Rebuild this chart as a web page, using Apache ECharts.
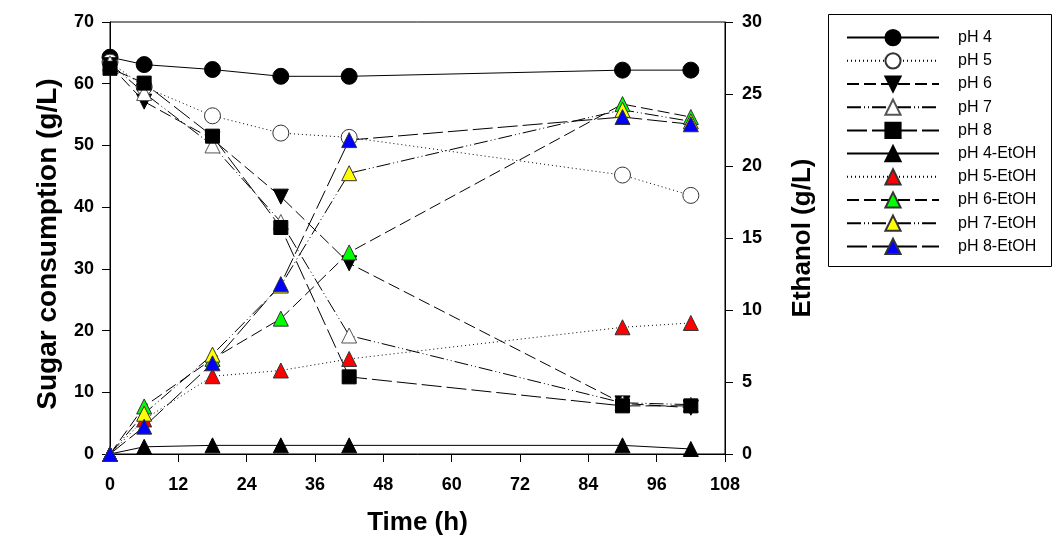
<!DOCTYPE html>
<html><head><meta charset="utf-8">
<script src="https://cdn.jsdelivr.net/npm/echarts@6/dist/echarts.min.js"></script>
<style>html,body{margin:0;padding:0;background:#fff}#c{width:1056px;height:556px}</style>
</head><body><div id="c"></div>
<script>
const timeH = [0, 6, 18, 30, 42, 90, 102];
const sugarPH4 = [64.3, 63.1, 62.3, 61.2, 61.2, 62.2, 62.2];
const sugarPH5 = [63.5, 59.5, 54.8, 52.0, 51.3, 45.2, 41.9];
const sugarPH6 = [63.0, 57.1, 51.0, 41.7, 30.9, 8.2, 7.5];
const sugarPH7 = [63.3, 58.5, 50.0, 37.6, 19.2, 8.3, 8.0];
const sugarPH8 = [62.5, 60.1, 51.5, 36.7, 12.5, 7.8, 7.8];
const etohPH4 = [0, 0.5, 0.6, 0.6, 0.6, 0.6, 0.35];
const etohPH5 = [0, 2.4, 5.4, 5.8, 6.6, 8.8, 9.1];
const etohPH6 = [0, 3.3, 6.6, 9.4, 14.0, 24.3, 23.4];
const etohPH7 = [0, 2.8, 6.9, 11.7, 19.5, 23.9, 23.1];
const etohPH8 = [0, 1.9, 6.3, 11.8, 21.8, 23.4, 22.9];
const seriesNames = ['pH 4','pH 5','pH 6','pH 7','pH 8','pH 4-EtOH','pH 5-EtOH','pH 6-EtOH','pH 7-EtOH','pH 8-EtOH'];
const xRange = [0, 108, 12];
const leftRange = [0, 70, 10];
const rightRange = [0, 30, 5];

const FONT = 'Arial, "Liberation Sans", sans-serif';
const DASH = {
  solid: 'solid',
  dot: [1, 3],
  dash: [12, 5],
  dashdotdot: [14, 3, 1, 3, 1, 3],
  longdash: [20, 5]
};
function pts(arr){ return timeH.map((t,i)=>[t, arr[i]]); }
function mk(name, arr, yIdx, dash, symbol, size, fill, border, rotate){
  return {
    name, type:'line', yAxisIndex:yIdx, data:pts(arr),
    symbol, symbolSize:size, symbolRotate:rotate||0,
    showAllSymbol:true,
    lineStyle:{color:'#000', width:1, type:dash},
    itemStyle:{color:fill, borderColor:border, borderWidth:1, opacity:1},
    emphasis:{disabled:true}
  };
}
const chart = echarts.init(document.getElementById('c'), null, {renderer:'canvas'});
chart.setOption({
  animation:false,
  backgroundColor:'#fff',
  textStyle:{fontFamily:FONT},
  grid:{left:110, right:331, top:22, bottom:102, show:true, borderColor:'#000', borderWidth:1, containLabel:false},
  legend:{
    data:seriesNames, orient:'vertical', left:841, top:24, itemWidth:92, itemHeight:19,
    itemGap:6.0,
    textStyle:{fontFamily:FONT, fontSize:16, color:'#000', padding:[0,0,0,14]},
    inactiveColor:'#ccc'
  },
  graphic:[{type:'rect', shape:{x:828.5, y:14.5, width:223, height:252}, style:{fill:'none', stroke:'#000', lineWidth:1}, silent:true}],
  xAxis:{
    type:'value', min:xRange[0], max:xRange[1], interval:xRange[2],
    name:'Time (h)', nameLocation:'middle', nameGap:56,
    nameTextStyle:{fontFamily:FONT, fontSize:26, fontWeight:'bold', color:'#000'},
    axisLine:{show:true, lineStyle:{color:'#000', width:1}},
    axisTick:{show:true, inside:false, length:8, lineStyle:{color:'#000'}},
    axisLabel:{fontFamily:FONT, fontSize:18, fontWeight:'bold', color:'#000', margin:22},
    splitLine:{show:false}
  },
  yAxis:[{
    type:'value', position:'left', min:leftRange[0], max:leftRange[1], interval:leftRange[2],
    name:'Sugar consumption (g/L)', nameLocation:'middle', nameGap:48, nameRotate:90,
    nameTextStyle:{fontFamily:FONT, fontSize:28, fontWeight:'bold', color:'#000', padding:[0,12,0,0]},
    axisLine:{show:true, lineStyle:{color:'#000', width:1}},
    axisTick:{show:true, inside:false, length:8, lineStyle:{color:'#000'}},
    axisLabel:{fontFamily:FONT, fontSize:18, fontWeight:'bold', color:'#000', margin:16},
    splitLine:{show:false}
  },{
    type:'value', position:'right', min:rightRange[0], max:rightRange[1], interval:rightRange[2],
    name:'Ethanol (g/L)', nameLocation:'middle', nameGap:65, nameRotate:90,
    nameTextStyle:{fontFamily:FONT, fontSize:26, fontWeight:'bold', color:'#000'},
    axisLine:{show:true, lineStyle:{color:'#000', width:1}},
    axisTick:{show:true, inside:false, length:8, lineStyle:{color:'#000'}},
    axisLabel:{fontFamily:FONT, fontSize:18, fontWeight:'bold', color:'#000', margin:17},
    splitLine:{show:false}
  }],
  series:[
    mk(seriesNames[0], sugarPH4, 0, DASH.solid, 'circle', 16, '#000', '#000'),
    mk(seriesNames[1], sugarPH5, 0, DASH.dot, 'circle', 16, '#fff', '#333'),
    mk(seriesNames[2], sugarPH6, 0, DASH.dash, 'triangle', 15, '#000', '#000', 180),
    mk(seriesNames[3], sugarPH7, 0, DASH.dashdotdot, 'triangle', 15, '#fff', '#555'),
    mk(seriesNames[4], sugarPH8, 0, DASH.longdash, 'rect', 14, '#000', '#000'),
    mk(seriesNames[5], etohPH4, 1, DASH.solid, 'triangle', 15, '#000', '#000'),
    mk(seriesNames[6], etohPH5, 1, DASH.dot, 'triangle', 15, '#ff0000', '#333'),
    mk(seriesNames[7], etohPH6, 1, DASH.dash, 'triangle', 15, '#00ff00', '#333'),
    mk(seriesNames[8], etohPH7, 1, DASH.dashdotdot, 'triangle', 15, '#ffff00', '#333'),
    mk(seriesNames[9], etohPH8, 1, DASH.longdash, 'triangle', 15, '#0000ff', '#333')
  ]
});
</script></body></html>
